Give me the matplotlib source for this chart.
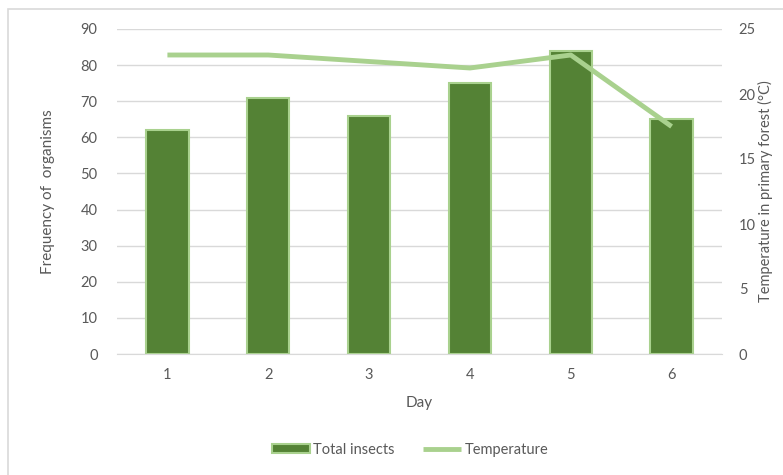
import matplotlib.pyplot as plt
from matplotlib.patches import Rectangle

# daily counts and temperatures
days = ['1', '2', '3', '4', '5', '6']
total_insects = [62, 71, 66, 75, 84, 65]
temperature = [23.0, 23.0, 22.5, 22.0, 23.0, 17.5]

bar_color = '#548235'
line_color = '#a9d18e'
text_color = '#595959'

plt.rcParams['font.family'] = ['Lato', 'DejaVu Sans']

fig = plt.figure(figsize=(7.83, 4.75), dpi=100)
fig.patches.append(Rectangle((8 / 783, -0.05), 1.0, 1 - 9 / 475 + 0.05,
                             transform=fig.transFigure, fill=False,
                             edgecolor='#d9d9d9', linewidth=1.2))

ax1 = fig.add_axes([117 / 783, 1 - 354 / 475, (722 - 117) / 783, (354 - 29) / 475])
x = range(len(days))
ax1.bar(x, total_insects, width=0.42, color=bar_color, edgecolor=line_color,
        linewidth=1.5, zorder=2, label='Total insects')
ax1.set_ylim(0, 90)
ax1.set_yticks(range(0, 91, 10))
ax1.set_xlim(-0.5, len(days) - 0.5)
ax1.set_xticks(list(x))
ax1.set_xticklabels(days)
ax1.grid(axis='y', color='#d9d9d9', linewidth=1, zorder=0)
ax1.set_axisbelow(True)
for s in ['top', 'right', 'left']:
    ax1.spines[s].set_visible(False)
ax1.spines['bottom'].set_color('#d9d9d9')
ax1.tick_params(length=0, colors=text_color, labelsize=10.5, pad=10)
ax1.tick_params(axis='y', pad=14)
ax1.set_xlabel('Day', color=text_color, fontsize=11, labelpad=10)
ax1.set_ylabel('Frequency of  organisms', color=text_color, fontsize=11)
ax1.yaxis.set_label_coords(-62 / 605, 0.5)

ax2 = ax1.twinx()
ax2.plot(list(x), temperature, color=line_color, linewidth=3.5,
         solid_capstyle='butt', zorder=3, label='Temperature')
ax2.set_ylim(0, 25)
ax2.set_yticks(range(0, 26, 5))
for s in ax2.spines.values():
    s.set_visible(False)
ax2.tick_params(length=0, colors=text_color, labelsize=10.5, pad=12)
ax2.set_ylabel('Temperature in primary forest (°C)', color=text_color,
               fontsize=10.5)
ax2.yaxis.set_label_coords(1 + 36 / 605, 0.5)

h1, l1 = ax1.get_legend_handles_labels()
h2, l2 = ax2.get_legend_handles_labels()
fig.legend(h1 + h2, l1 + l2, loc='center', bbox_to_anchor=(410 / 783, 1 - 450 / 475),
           ncol=2, frameon=False, fontsize=10.5, labelcolor=text_color,
           handlelength=2.6, handleheight=0.6, handletextpad=0.2, columnspacing=2.0)

fig.savefig('out.png', dpi=100)
